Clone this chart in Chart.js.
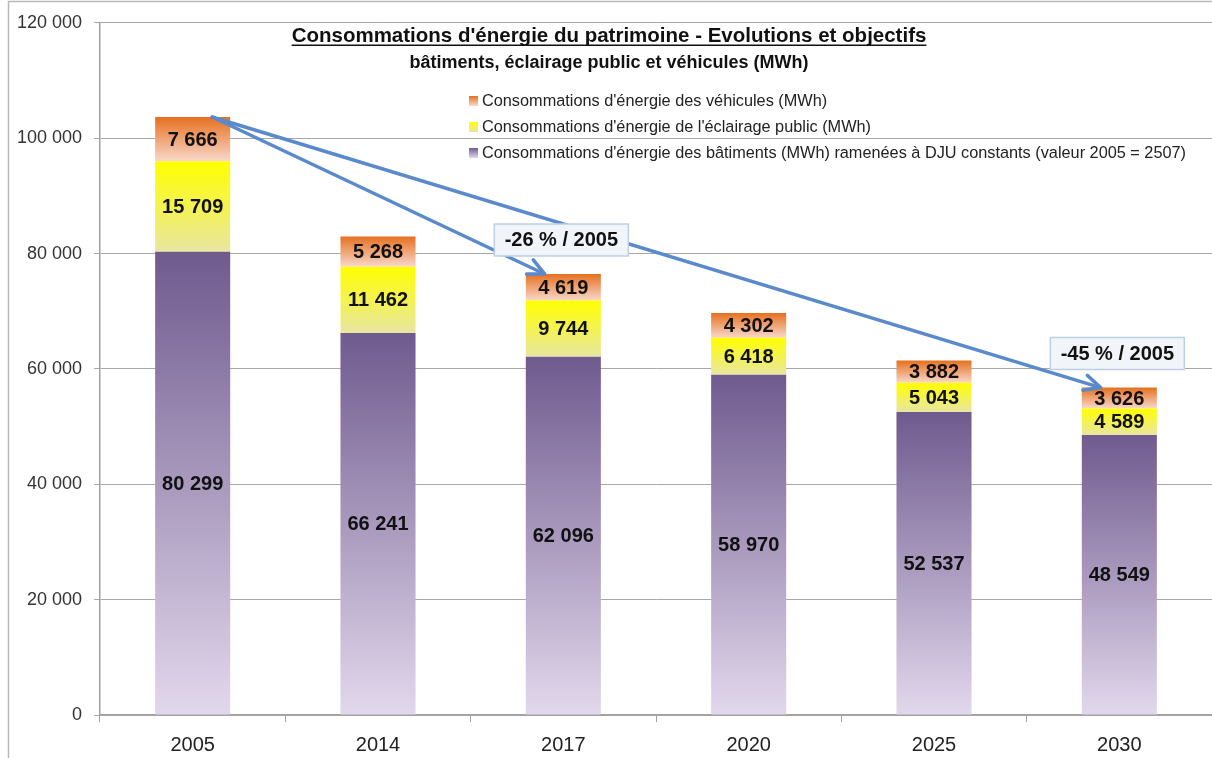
<!DOCTYPE html>
<html>
<head>
<meta charset="utf-8">
<script src="https://cdn.jsdelivr.net/npm/chart.js@4.4.1/dist/chart.umd.min.js"></script>
<style>
    html, body { margin: 0; background: #fff; }
    #wrap { width: 1212px; height: 758px; position: relative; }
</style>
</head>
<body>
<div id="wrap"><canvas id="chart"></canvas></div>
<script>
const YEARS     = ['2005', '2014', '2017', '2020', '2025', '2030'];
const BATIMENTS = [80299, 66241, 62096, 58970, 52537, 48549];
const ECLAIRAGE = [15709, 11462, 9744, 6418, 5043, 4589];
const VEHICULES = [7666, 5268, 4619, 4302, 3882, 3626];

const NAMES = [
    "Consommations d'énergie des bâtiments (MWh) ramenées à DJU constants (valeur 2005 = 2507)",
    "Consommations d'énergie de l'éclairage public (MWh)",
    "Consommations d'énergie des véhicules (MWh)",
];
const Y_MIN = 0, Y_MAX = 120000, Y_STEP = 20000;

const TITLE    = "Consommations d'énergie du patrimoine - Evolutions et objectifs";
const SUBTITLE = 'bâtiments, éclairage public et véhicules (MWh)';

// arrows from the 2005 bar to the target years, with their label
const NOTES = [
    { from: 0, to: 2, text: '-26 % / 2005' },
    { from: 0, to: 5, text: '-45 % / 2005' },
];

const FONT = "'Liberation Sans', Arial, sans-serif";

const STOPS = [
    ['#6f5a8e', '#e2d8ec'],   // bâtiments
    ['#ffff00', '#e8e6a2'],   // éclairage
    ['#e6701f', '#f8d8ca'],   // véhicules
];

function fmt(n) { return String(n).replace(/\B(?=(\d{3})+(?!\d))/g, ' '); }

function gradientFor(ds) {
    return ctx => {
        const chart = ctx.chart;
        const y = chart.scales.y;
        if (ctx.type !== 'data' || !chart.chartArea || !y) return STOPS[ds][0];
        const i = ctx.dataIndex;
        let below = 0;
        for (let d = 0; d < ds; d++) below += chart.data.datasets[d].data[i];
        const top = y.getPixelForValue(below + chart.data.datasets[ds].data[i]);
        const bot = y.getPixelForValue(below);
        const g = chart.ctx.createLinearGradient(0, top, 0, bot);
        g.addColorStop(0, STOPS[ds][0]);
        g.addColorStop(1, STOPS[ds][1]);
        return g;
    };
}

function stackTop(chart, i) {
    return chart.data.datasets.reduce((s, d) => s + d.data[i], 0);
}

const decor = {
    id: 'decor',
    beforeDraw(chart) {
        const c = chart.ctx;
        c.save();
        c.strokeStyle = '#b8b8b8';
        c.lineWidth = 1.5;
        c.beginPath();
        c.moveTo(8.5, 758); c.lineTo(8.5, 1.5); c.lineTo(1212, 1.5);
        c.stroke();
        c.restore();
    },
    afterDatasetsDraw(chart) {
        const c = chart.ctx;
        const x = chart.scales.x, y = chart.scales.y;
        c.save();

        // values inside the segments
        c.font = `bold 20px ${FONT}`;
        c.fillStyle = '#111';
        c.textAlign = 'center';
        c.textBaseline = 'middle';
        chart.data.datasets.forEach((ds, d) => {
            chart.getDatasetMeta(d).data.forEach((bar, i) => {
                c.fillText(fmt(ds.data[i]), bar.x, (bar.y + bar.base) / 2 + 1);
            });
        });

        // arrows
        const bw = chart.getDatasetMeta(0).data[0].width;
        c.strokeStyle = '#5a8acb';
        c.lineWidth = 3.5;
        c.lineCap = 'round';
        c.lineJoin = 'round';
        NOTES.forEach(n => {
            const x0 = x.getPixelForValue(n.from) + bw * 0.26;
            const y0 = y.getPixelForValue(stackTop(chart, n.from));
            const x1 = x.getPixelForValue(n.to) - bw * 0.25;
            const y1 = y.getPixelForValue(stackTop(chart, n.to));
            const a = Math.atan2(y1 - y0, x1 - x0);
            c.beginPath();
            c.moveTo(x0, y0); c.lineTo(x1, y1);
            c.stroke();
            const L = 18, w = 0.45;
            c.beginPath();
            c.moveTo(x1 - L * Math.cos(a - w), y1 - L * Math.sin(a - w));
            c.lineTo(x1, y1);
            c.lineTo(x1 - L * Math.cos(a + w), y1 - L * Math.sin(a + w));
            c.stroke();
        });

        // boxes with the reduction
        NOTES.forEach(n => {
            const cx = x.getPixelForValue(n.to) - 2;
            const top = y.getPixelForValue(stackTop(chart, n.to));
            const bw2 = 134, bh = 32;
            const bx = cx - bw2 / 2, by = top - 18 - bh;
            c.fillStyle = '#f1f4f9';
            c.fillRect(bx, by, bw2, bh);
            c.strokeStyle = '#bccfe6';
            c.lineWidth = 1.5;
            c.strokeRect(bx, by, bw2, bh);
            c.fillStyle = '#111';
            c.font = `bold 20px ${FONT}`;
            c.textAlign = 'center';
            c.textBaseline = 'middle';
            c.fillText(n.text, cx, by + bh / 2 + 1);
        });

        // title
        c.fillStyle = '#111';
        c.textAlign = 'center';
        c.textBaseline = 'alphabetic';
        c.font = `bold 20.5px ${FONT}`;
        c.fillText(TITLE, 609, 42);
        const tw = c.measureText(TITLE).width;
        c.fillRect(609 - tw / 2, 44.5, tw, 1.5);
        c.font = `bold 18px ${FONT}`;
        c.fillText(SUBTITLE, 609, 68);

        // legend (reverse order of the stack)
        c.font = `16.3px ${FONT}`;
        c.textAlign = 'left';
        c.textBaseline = 'middle';
        [2, 1, 0].forEach((d, k) => {
            const ly = 101 + k * 26;
            const g = c.createLinearGradient(0, ly - 5, 0, ly + 5);
            g.addColorStop(0, STOPS[d][0]);
            g.addColorStop(1, STOPS[d][1]);
            c.fillStyle = g;
            c.fillRect(469, ly - 5, 9, 10);
            c.fillStyle = '#222';
            c.fillText(NAMES[d], 482, ly + 1);
        });
        c.restore();
    }
};

new Chart(document.getElementById('chart'), {
    type: 'bar',
    data: {
        labels: YEARS,
        datasets: [
            { label: NAMES[0], data: BATIMENTS, backgroundColor: gradientFor(0) },
            { label: NAMES[1], data: ECLAIRAGE, backgroundColor: gradientFor(1) },
            { label: NAMES[2], data: VEHICULES, backgroundColor: gradientFor(2) },
        ]
    },
    options: {
        responsive: true,
        maintainAspectRatio: false,
        animation: false,
        categoryPercentage: 1,
        barPercentage: 0.405,
        layout: { padding: { top: 21, right: 0, left: 0, bottom: 0 } },
        plugins: {
            legend: { display: false },
            tooltip: { enabled: false }
        },
        scales: {
            x: {
                stacked: true,
                grid: { offset: true, drawOnChartArea: false, drawTicks: true, tickLength: 7, color: '#a0a0a0' },
                border: { color: '#a0a0a0', width: 1.5 },
                ticks: { font: { family: FONT, size: 20 }, color: '#222', padding: 11 },
                afterFit(s) { s.height = 43; }
            },
            y: {
                stacked: true,
                min: Y_MIN,
                max: Y_MAX,
                ticks: {
                    stepSize: Y_STEP,
                    callback: v => fmt(v),
                    font: { family: FONT, size: 18 },
                    color: '#333',
                    padding: 12
                },
                grid: { color: '#a8a8a8', tickLength: 6 },
                border: { color: '#a0a0a0', width: 1.5 },
                afterFit(s) { s.width = 100; }
            }
        }
    },
    plugins: [decor]
});
</script>
</body>
</html>
